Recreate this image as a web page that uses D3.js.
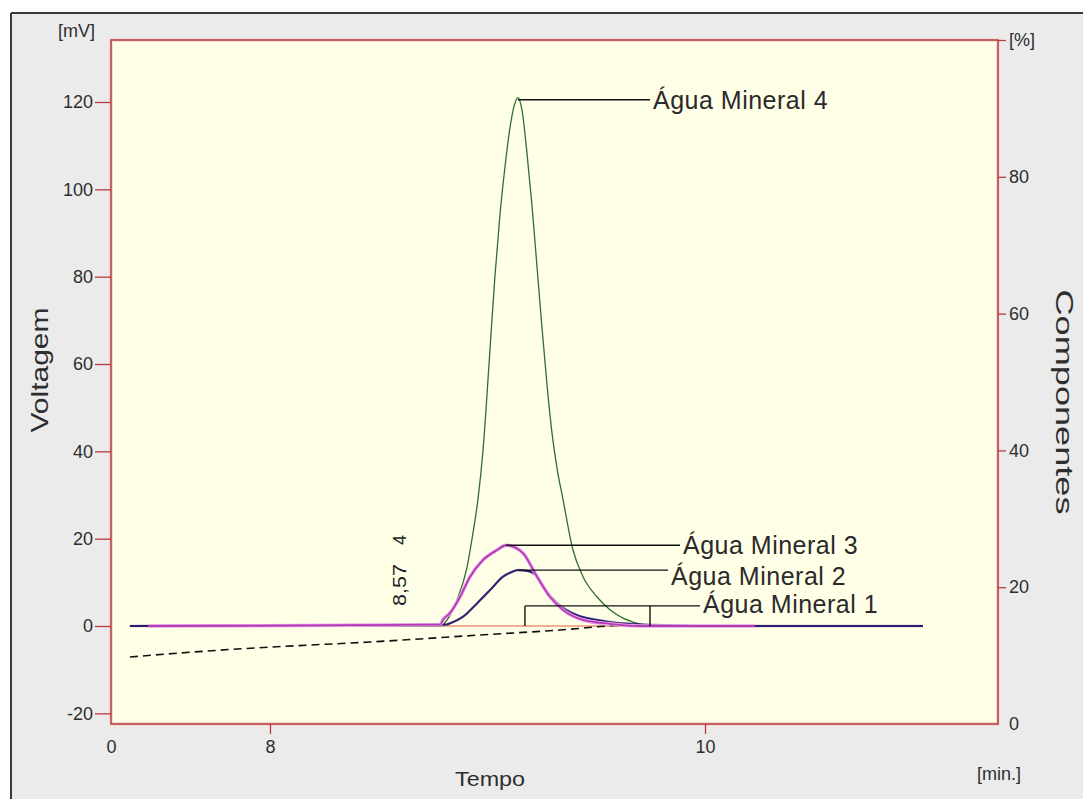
<!DOCTYPE html>
<html>
<head>
<meta charset="utf-8">
<script src="https://cdn.jsdelivr.net/npm/d3@7"></script>
<style>
  body { margin: 0; background: #fff; }
  text { font-family: "Liberation Sans", Arial, sans-serif; }
</style>
</head>
<body>
<div id="plot"></div>
<script>
// chart data (time in min, signal in mV, dashed line in %)
var green4Time = [7.356, 8.782, 8.828, 8.860, 8.906, 8.929, 8.956, 8.979, 9.007, 9.034, 9.057, 9.080, 9.103, 9.122, 9.140, 9.159, 9.182, 9.205, 9.228, 9.251, 9.274, 9.297, 9.320, 9.347, 9.393, 9.439, 9.503, 9.563, 9.623, 9.669, 9.747];
var green4Value = [0, 0, 2.5, 6, 13.5, 20, 29, 40, 60, 80, 94, 105, 114, 119, 121, 118, 108, 96, 82, 68, 55, 44, 36, 29, 17.4, 11.3, 6.7, 3.7, 1.8, 0.9, 0];

var magenta3Time = [7.439, 8.782, 8.795, 8.828, 8.874, 8.920, 8.979, 9.044, 9.085, 9.126, 9.163, 9.228, 9.287, 9.347, 9.439, 9.563, 9.701, 10.230];
var magenta3Value = [0, 0.3, 1.4, 3, 6.7, 11.3, 15.1, 17.4, 18.5, 18, 16.7, 11.3, 6.7, 3.7, 1.4, 0.5, 0, 0];

var navy2Time = [7.356, 8.805, 8.841, 8.887, 8.952, 9.011, 9.071, 9.113, 9.140, 9.186, 9.228, 9.255, 9.320, 9.411, 9.503, 9.595, 9.687, 9.793, 9.977, 11.002];
var navy2Value = [0, 0.3, 0.9, 2.1, 5.2, 8.2, 11.3, 12.4, 12.8, 12.6, 11.3, 9, 5.2, 2.5, 1.4, 0.7, 0.4, 0.2, 0, 0];

var dashTime = [7.356, 7.848, 8.009, 8.460, 8.966, 9.333, 9.641, 9.724];
var dashPercent = [9.8, 10.96, 11.26, 11.99, 13.01, 13.74, 14.47, 14.5];

// peak annotations
var annLabels = ["Água Mineral 4", "Água Mineral 3", "Água Mineral 2", "Água Mineral 1"];
var annStart = [9.140, 9.085, 9.140, 9.172];
var annLevel = [120.5, 18.5, 12.8, 4.6];
var annEnd = [9.747, 9.885, 9.830, 9.977];
var annTextDy = [0, 0, 6, -2];
var bracketEnd = 9.747;

// axis ticks
var leftTicks = [-20, 0, 20, 40, 60, 80, 100, 120];
var rightTicks = [0, 20, 40, 60, 80, 100];
var rightTickLabels = ["0", "20", "40", "60", "80", "[%]"];
var xTicks = [7.269, 8, 10];
var xTickLabels = ["0", "8", "10"];

var svgWidth = 1083;
var svgHeight = 799;
var chartMargin = { top: 40, right: 85, bottom: 75, left: 111 };
var chartWidth = svgWidth - chartMargin.left - chartMargin.right;
var chartHeight = svgHeight - chartMargin.top - chartMargin.bottom;

var svg = d3.select("#plot")
  .append("svg")
  .attr("width", svgWidth)
  .attr("height", svgHeight);

// window background and frame
svg.append("rect").attr("x", 11).attr("y", 13).attr("width", svgWidth - 11).attr("height", svgHeight - 13).attr("fill", "#ebebeb");
svg.append("line").attr("x1", 11).attr("x2", svgWidth).attr("y1", 13).attr("y2", 13).attr("stroke", "#3a3a3a").attr("stroke-width", 2);
svg.append("line").attr("x1", 11).attr("x2", 11).attr("y1", 13).attr("y2", svgHeight).attr("stroke", "#3a3a3a").attr("stroke-width", 2);

var chartGroup = svg.append("g")
  .attr("transform", `translate(${chartMargin.left}, ${chartMargin.top})`);

var xScale = d3.scaleLinear().domain([7.269, 11.347]).range([0, chartWidth]);
var yLeft = d3.scaleLinear().domain([-22.44, 134.2]).range([chartHeight, 0]);
var yRight = d3.scaleLinear().domain([0, 100]).range([chartHeight, 0]);

// plot area
chartGroup.append("rect")
  .attr("width", chartWidth).attr("height", chartHeight)
  .attr("fill", "#ffffe8")
  .attr("stroke", "#f8d6d6").attr("stroke-width", 4);
chartGroup.append("rect")
  .attr("width", chartWidth).attr("height", chartHeight)
  .attr("fill", "none")
  .attr("stroke", "#a83434").attr("stroke-width", 1.4);

// axes
var leftAxis = d3.axisLeft(yLeft).tickValues(leftTicks).tickSize(16).tickPadding(2)
  .tickFormat(d => String(d));
var rightAxis = d3.axisRight(yRight).tickValues(rightTicks).tickSize(8).tickPadding(3)
  .tickFormat((d, i) => rightTickLabels[i]);
var bottomAxis = d3.axisBottom(xScale).tickValues(xTicks).tickSize(10).tickPadding(4)
  .tickFormat((d, i) => xTickLabels[i]);

var gLeft = chartGroup.append("g").call(leftAxis);
var gRight = chartGroup.append("g").attr("transform", `translate(${chartWidth}, 0)`).call(rightAxis);
var gBottom = chartGroup.append("g").attr("transform", `translate(0, ${chartHeight})`).call(bottomAxis);

[gLeft, gRight, gBottom].forEach(function(g) {
  g.select(".domain").remove();
  g.selectAll(".tick line").attr("stroke", "#b83c3c").attr("stroke-width", 1.3);
  g.selectAll(".tick text").attr("fill", "#2e2e2e").attr("font-size", 18)
    .attr("font-family", "'Liberation Sans', Arial, sans-serif");
});
gRight.selectAll(".tick").filter(d => d === 0).select("line").remove();
gBottom.selectAll(".tick").filter((d, i) => i === 0).select("line").remove();
gBottom.selectAll(".tick text").attr("dy", "0.85em");

// unit labels
svg.append("text").attr("x", 95).attr("y", 37).attr("text-anchor", "end")
  .attr("font-size", 18).attr("fill", "#2e2e2e").text("[mV]");
svg.append("text").attr("x", 1021).attr("y", 780).attr("text-anchor", "end")
  .attr("font-size", 18).attr("fill", "#2e2e2e").text("[min.]");

// axis titles
svg.append("text")
  .attr("transform", "translate(48, 370) rotate(-90)")
  .attr("text-anchor", "middle").attr("font-size", 24).attr("fill", "#2e2e2e")
  .attr("textLength", 125).attr("lengthAdjust", "spacingAndGlyphs")
  .text("Voltagem");
svg.append("text")
  .attr("transform", "translate(1056, 402) rotate(90)")
  .attr("text-anchor", "middle").attr("font-size", 24).attr("fill", "#2e2e2e")
  .attr("textLength", 225).attr("lengthAdjust", "spacingAndGlyphs")
  .text("Componentes");
svg.append("text")
  .attr("x", 490).attr("y", 786)
  .attr("text-anchor", "middle").attr("font-size", 21).attr("fill", "#2e2e2e")
  .attr("textLength", 70).attr("lengthAdjust", "spacingAndGlyphs")
  .text("Tempo");

// zero baseline
chartGroup.append("line")
  .attr("x1", xScale(7.356)).attr("x2", xScale(11.0))
  .attr("y1", yLeft(0)).attr("y2", yLeft(0))
  .attr("stroke", "#d9603c").attr("stroke-width", 1);

var lineOf = (times, values, y) => d3.line()
  .x((d, i) => xScale(times[i]))
  .y((d, i) => y(values[i]))
  .curve(d3.curveMonotoneX)(values);

// dashed line on the right axis
chartGroup.append("path")
  .attr("d", lineOf(dashTime, dashPercent, yRight))
  .attr("fill", "none").attr("stroke", "#111").attr("stroke-width", 1.6)
  .attr("stroke-dasharray", "8,5");

// signals
chartGroup.append("path")
  .attr("d", lineOf(green4Time, green4Value, yLeft))
  .attr("fill", "none").attr("stroke", "#2f6e2f").attr("stroke-width", 1.3);

chartGroup.append("path")
  .attr("d", lineOf(navy2Time, navy2Value, yLeft))
  .attr("fill", "none").attr("stroke", "#3a1f78").attr("stroke-width", 2.6)
  .attr("stroke-opacity", 0.35);
chartGroup.append("path")
  .attr("d", lineOf(navy2Time, navy2Value, yLeft))
  .attr("fill", "none").attr("stroke", "#2a1a72").attr("stroke-width", 1.8);

chartGroup.append("path")
  .attr("d", lineOf(magenta3Time, magenta3Value, yLeft))
  .attr("fill", "none").attr("stroke", "#eaa6ea").attr("stroke-width", 3.6);
chartGroup.append("path")
  .attr("d", lineOf(magenta3Time, magenta3Value, yLeft))
  .attr("fill", "none").attr("stroke", "#b53ab5").attr("stroke-width", 1.8);

// bracket for the first sample
chartGroup.append("path")
  .attr("d", `M${xScale(annStart[3])},${yLeft(0)} V${yLeft(annLevel[3])} M${xScale(bracketEnd)},${yLeft(0)} V${yLeft(annLevel[3])}`)
  .attr("stroke", "#111").attr("stroke-width", 1.4);

// annotation leaders and labels
var ann = chartGroup.selectAll(".ann")
  .data(annLabels)
  .enter()
  .append("g")
  .attr("class", "ann");

ann.append("line")
  .attr("x1", (d, i) => xScale(annStart[i]))
  .attr("x2", (d, i) => xScale(annEnd[i]))
  .attr("y1", (d, i) => yLeft(annLevel[i]))
  .attr("y2", (d, i) => yLeft(annLevel[i]))
  .attr("stroke", "#111").attr("stroke-width", 1.4);

ann.append("text")
  .attr("x", (d, i) => xScale(annEnd[i]) + 3)
  .attr("y", (d, i) => yLeft(annLevel[i]) + annTextDy[i])
  .attr("dy", "0.35em")
  .attr("font-family", "Lato, 'Open Sans', sans-serif")
  .attr("font-size", 25).attr("letter-spacing", 0.5).attr("fill", "#2a2a2a")
  .text(d => d);

// peak time labels
chartGroup.append("text")
  .attr("transform", `translate(${xScale(8.598) + 6}, ${yLeft(9.4)}) rotate(-90)`)
  .attr("text-anchor", "middle").attr("font-size", 18).attr("fill", "#222")
  .attr("textLength", 42).attr("lengthAdjust", "spacingAndGlyphs")
  .text("8,57");
chartGroup.append("text")
  .attr("transform", `translate(${xScale(8.598) + 6}, ${yLeft(19.7)}) rotate(-90)`)
  .attr("text-anchor", "middle").attr("font-size", 18).attr("fill", "#222")
  .text("4");
</script>
</body>
</html>
